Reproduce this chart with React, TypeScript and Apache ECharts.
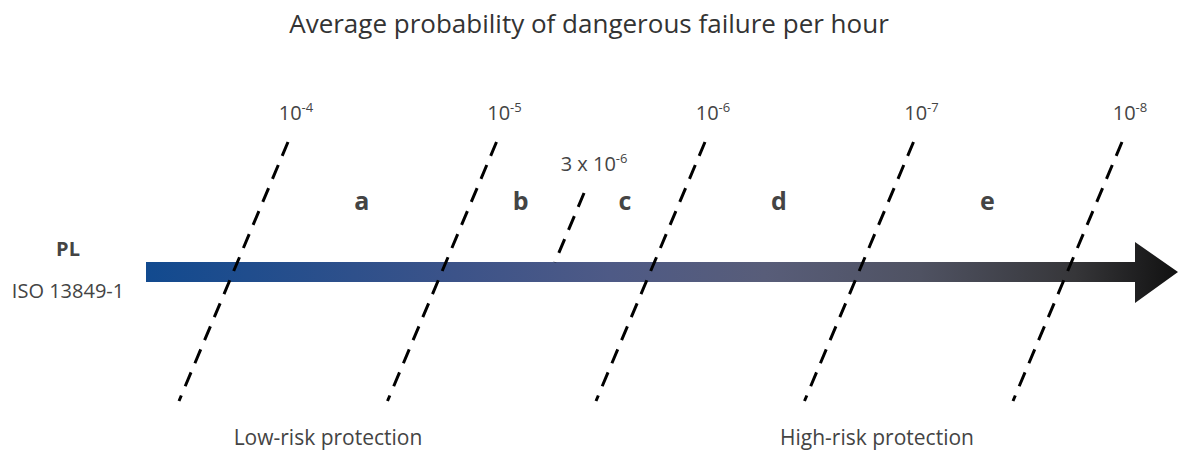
import React, { useEffect, useRef } from "react";
import * as echarts from "echarts";

// Boundaries of the PL bands, as average probability of dangerous failure per hour
const boundaryValues = [1e-4, 1e-5, 1e-6, 1e-7, 1e-8];
const boundaryExponents = ["-4", "-5", "-6", "-7", "-8"];
const intermediateValue = 3e-6;
const intermediateLabel = "3 x 10";
const intermediateExponent = "-6";
// Performance level classes and their band limits
const plClasses = ["a", "b", "c", "d", "e"];
const plLower = [1e-4, 1e-5, 3e-6, 1e-6, 1e-7];
const plUpper = [1e-5, 3e-6, 1e-6, 1e-7, 1e-8];

const titleText = "Average probability of dangerous failure per hour";
const leftLabels = ["PL", "ISO 13849-1"];
const bottomLabels = ["Low-risk protection", "High-risk protection"];

const FONT = "'Open Sans', 'Noto Sans', sans-serif";
const SLANT = 0.5228; // x shift (in decades) across the full y span
const toX = (v: number) => -Math.log10(v);
const shift = (y: number) => (SLANT * (1 - y)) / 2;

export default function App() {
  const ref = useRef<HTMLDivElement>(null);
  useEffect(() => {
    if (!ref.current) return;
    const chart = echarts.init(ref.current, null, { renderer: "svg" });

    const lineSeries: any[] = boundaryValues.map((v, i) => ({
      type: "line",
      name: "b" + i,
      symbol: "none",
      silent: true,
      z: 5,
      lineStyle: { color: "#000", width: 3, type: [15, 10] },
      data: [
        [toX(v), 1],
        [toX(v) - shift(-1), -1],
      ],
    }));
    const yTopI = 0.606;
    const yBotI = 0.07;
    lineSeries.push({
      type: "line",
      name: "mid",
      symbol: "none",
      silent: true,
      z: 5,
      lineStyle: { color: "#000", width: 3, type: [15, 10] },
      data: [
        [toX(intermediateValue) - shift(yTopI), yTopI],
        [toX(intermediateValue) - shift(yBotI), yBotI],
      ],
    });

    const rich = {
      b: { fontSize: 20, color: "#444", fontFamily: FONT, lineHeight: 24 },
      s: { fontSize: 13, color: "#444", fontFamily: FONT, verticalAlign: "top", lineHeight: 15 },
    };

    const labelData: any[] = boundaryValues.map((v, i) => ({
      value: [toX(v), 1],
      label: {
        offset: [8, -30],
        formatter: "{b|10}{s|" + boundaryExponents[i] + "}",
      },
    }));
    labelData.push({
      value: [toX(intermediateValue) - shift(yTopI), yTopI],
      label: {
        offset: [10, -30],
        formatter: "{b|" + intermediateLabel + "}{s|" + intermediateExponent + "}",
      },
    });

    const labelSeries = {
      type: "scatter",
      symbolSize: 0,
      silent: true,
      clip: false,
      z: 6,
      itemStyle: { opacity: 1 },
      label: {
        show: true,
        position: "inside",
        fontSize: 20,
        color: "#444",
        fontFamily: FONT,
        rich,
      },
      data: labelData,
    };

    const yCls = 0.552;
    const classSeries = {
      type: "scatter",
      symbolSize: 0,
      silent: true,
      clip: false,
      z: 6,
      itemStyle: { opacity: 1 },
      label: {
        show: true,
        position: "inside",
        offset: [-6, 0],
        fontSize: 25,
        fontWeight: "bold",
        color: "#444",
        fontFamily: FONT,
        formatter: (p: any) => plClasses[p.dataIndex],
      },
      data: plClasses.map((c, i) => [
        (toX(plLower[i]) + toX(plUpper[i])) / 2 - shift(yCls),
        yCls,
      ]),
    };

    chart.setOption({
      animation: false,
      title: {
        text: titleText,
        left: "center",
        top: 5,
        textStyle: { fontSize: 26, fontWeight: "normal", color: "#333", fontFamily: FONT },
      },
      grid: { left: 79.5, right: 56, top: 142, bottom: 49 },
      xAxis: { type: "value", min: 3, max: 8, show: false },
      yAxis: { type: "value", min: -1, max: 1, show: false },
      graphic: [
        {
          type: "polygon",
          z: 1,
          silent: true,
          shape: {
            points: [
              [146, 262], [1135, 262], [1135, 242], [1178, 272],
              [1135, 303], [1135, 282], [146, 282],
            ],
          },
          style: {
            fill: new echarts.graphic.LinearGradient(0, 0, 1, 0, [
              { offset: 0, color: "#124a8f" },
              { offset: 0.3, color: "#3c5389" },
              { offset: 0.45, color: "#4e5a86" },
              { offset: 0.6, color: "#585d79" },
              { offset: 0.75, color: "#4f5262" },
              { offset: 0.9, color: "#363639" },
              { offset: 1, color: "#111111" },
            ]),
          },
        },
        {
          type: "text",
          x: 68,
          y: 248,
          style: { text: leftLabels[0], fontSize: 20, fontWeight: "bold", fill: "#444", fontFamily: FONT, align: "center", verticalAlign: "middle" },
        },
        {
          type: "text",
          x: 68,
          y: 290,
          style: { text: leftLabels[1], fontSize: 20, fill: "#444", fontFamily: FONT, align: "center", verticalAlign: "middle" },
        },
        {
          type: "text",
          x: 328,
          y: 437,
          style: { text: bottomLabels[0], fontSize: 21, fill: "#444", fontFamily: FONT, align: "center", verticalAlign: "middle" },
        },
        {
          type: "text",
          x: 877,
          y: 437,
          style: { text: bottomLabels[1], fontSize: 21, fill: "#444", fontFamily: FONT, align: "center", verticalAlign: "middle" },
        },
      ],
      series: [...lineSeries, labelSeries, classSeries],
    });
    return () => chart.dispose();
  }, []);
  return (
    <div
      ref={ref}
      style={{ position: "fixed", left: 0, top: 0, width: 1178, height: 450, background: "#fff" }}
    />
  );
}
